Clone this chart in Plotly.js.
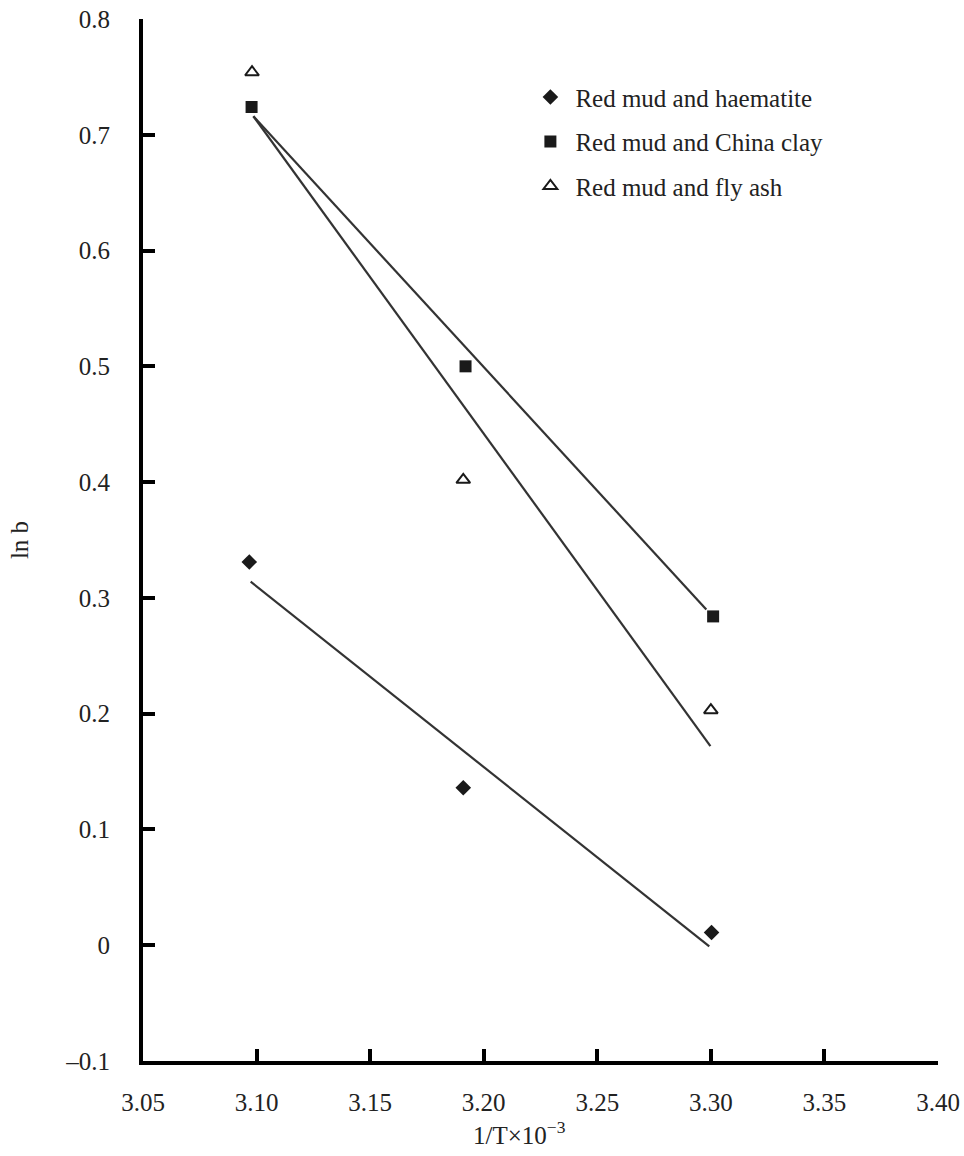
<!DOCTYPE html>
<html>
<head>
<meta charset="utf-8">
<script src="https://cdn.plot.ly/plotly-3.0.1.min.js"></script>
<style>html,body{margin:0;padding:0;background:#fff;}#chart{width:964px;height:1156px;}</style>
</head>
<body>
<div id="chart"></div>
<script>
// Measured points
const haemX = [3.0968, 3.191, 3.3003];
const haemY = [0.331, 0.136, 0.011];
const clayX = [3.0978, 3.192, 3.301];
const clayY = [0.724, 0.500, 0.284];
const flyX = [3.098, 3.191, 3.300];
const flyY = [0.754, 0.402, 0.203];

// Fitted lines (end points)
const haemFitX = [3.0974, 3.2993];
const haemFitY = [0.314, -0.001];
const clayFitX = [3.0986, 3.298];
const clayFitY = [0.716, 0.290];
const flyFitX = [3.0986, 3.2998];
const flyFitY = [0.716, 0.172];

const seriesNames = ["Red mud and haematite", "Red mud and China clay", "Red mud and fly ash"];

const xTicks = [3.05, 3.10, 3.15, 3.20, 3.25, 3.30, 3.35, 3.40];
const xTickText = ["3.05", "3.10", "3.15", "3.20", "3.25", "3.30", "3.35", "3.40"];
const yTicks = [-0.1, 0, 0.1, 0.2, 0.3, 0.4, 0.5, 0.6, 0.7, 0.8];
const yTickText = ["–0.1", "0", "0.1", "0.2", "0.3", "0.4", "0.5", "0.6", "0.7", "0.8"];

const xTitle = "1/T×10<sup>−3</sup>";
const yTitle = "ln b";

const font = "'Liberation Serif', 'Times New Roman', serif";
const lineColor = "#333";
const txt = "#222";

const traces = [
  {x: haemFitX, y: haemFitY, mode: "lines", line: {color: lineColor, width: 2.2}, showlegend: false, hoverinfo: "skip"},
  {x: clayFitX, y: clayFitY, mode: "lines", line: {color: lineColor, width: 2.2}, showlegend: false, hoverinfo: "skip"},
  {x: flyFitX, y: flyFitY, mode: "lines", line: {color: lineColor, width: 2.2}, showlegend: false, hoverinfo: "skip"},
  {x: haemX, y: haemY, mode: "markers", name: seriesNames[0], legendgroup: "a",
   marker: {symbol: "diamond", size: 12, color: "#1a1a1a"}},
  {x: clayX, y: clayY, mode: "markers", name: seriesNames[1], legendgroup: "b",
   marker: {symbol: "square", size: 12, color: "#1a1a1a"}},
  {x: flyX, y: flyY, mode: "markers", name: seriesNames[2], legendgroup: "c",
   marker: {symbol: "triangle-up-open", size: 12, color: "#1a1a1a", line: {width: 2, color: "#1a1a1a"}}}
];

const layout = {
  width: 964, height: 1156,
  paper_bgcolor: "#fff", plot_bgcolor: "#fff",
  margin: {l: 143, r: 26, t: 19, b: 95},
  font: {family: font, size: 25, color: txt},
  showlegend: true,
  legend: {x: 0.481, y: 0.947, xanchor: "left", yanchor: "top",
           font: {family: font, size: 25, color: txt}, bgcolor: "rgba(0,0,0,0)",
           tracegroupgap: 9, itemwidth: 40},
  xaxis: {
    range: [3.05, 3.40], tickmode: "array", tickvals: xTicks, ticktext: xTickText,
    showline: true, linewidth: 4, linecolor: "#000", ticks: "inside", ticklen: 12, tickwidth: 4, tickcolor: "#000",
    showgrid: false, zeroline: false, ticklabelstandoff: 16,
    tickfont: {family: font, size: 25, color: txt}
  },
  yaxis: {
    range: [-0.1, 0.8], tickmode: "array", tickvals: yTicks, ticktext: yTickText,
    showline: true, linewidth: 4, linecolor: "#000", ticks: "inside", ticklen: 12, tickwidth: 4, tickcolor: "#000",
    showgrid: false, zeroline: false, ticklabelstandoff: 24,
    tickfont: {family: font, size: 25, color: txt},
    title: {text: yTitle, font: {family: font, size: 25, color: txt}, standoff: 31}
  },
  annotations: [
    {text: xTitle, xref: "paper", yref: "paper", x: 0.474, y: -0.069, xanchor: "center", yanchor: "middle",
     showarrow: false, font: {family: font, size: 25, color: txt}}
  ]
};

Plotly.newPlot("chart", traces, layout, {displayModeBar: false, staticPlot: true});
</script>
</body>
</html>
